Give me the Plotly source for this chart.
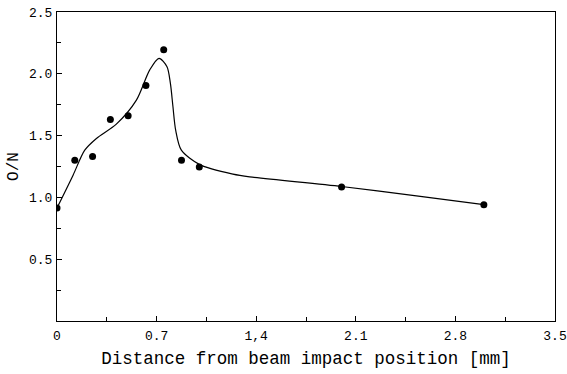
import plotly.graph_objects as go

# Measured points
pts_x = [0.0, 0.125, 0.25, 0.375, 0.5, 0.625, 0.75, 0.875, 1.0, 2.0, 3.0]
pts_y = [0.915, 1.30, 1.33, 1.63, 1.66, 1.905, 2.195, 1.30, 1.245, 1.085, 0.94]

# Fitted curve
curve_x = [0.0, 0.113, 0.195, 0.277, 0.417, 0.558, 0.651, 0.717, 0.773, 0.797,
           0.815, 0.834, 0.874, 1.003, 1.237, 1.354, 2.0, 2.526, 3.0]
curve_y = [0.915, 1.180, 1.382, 1.477, 1.593, 1.787, 2.030, 2.125, 2.057, 1.922,
           1.733, 1.544, 1.382, 1.265, 1.188, 1.166, 1.088, 1.012, 0.942]

x_tickvals = [0, 0.7, 1.4, 2.1, 2.8, 3.5]
x_ticktext = ["0", "0.7", "1,4", "2.1", "2.8", "3.5"]
y_tickvals = [0.5, 1.0, 1.5, 2.0, 2.5]
y_ticktext = ["0.5", "1.0", "1.5", "2.0", "2.5"]

font_family = "Liberation Mono"

fig = go.Figure()
fig.add_trace(go.Scatter(x=curve_x, y=curve_y, mode="lines",
                         line=dict(color="black", width=1.2, shape="spline", smoothing=0.8),
                         hoverinfo="skip", showlegend=False))
fig.add_trace(go.Scatter(x=pts_x, y=pts_y, mode="markers",
                         marker=dict(color="black", size=7),
                         showlegend=False))

fig.update_layout(
    width=567, height=374,
    margin=dict(l=57, r=12, t=12, b=53),
    paper_bgcolor="white", plot_bgcolor="white",
    font=dict(family=font_family, color="black", size=13),
    xaxis=dict(range=[0, 3.5], tickvals=x_tickvals, ticktext=x_ticktext,
               automargin=False,
               showgrid=False, zeroline=False, showline=True, linecolor="black",
               linewidth=1, mirror=True, ticks="inside", ticklen=5, tickcolor="black",
               minor=dict(dtick=0.35, ticks="inside", ticklen=4, tickcolor="black", showgrid=False),
               tickfont=dict(size=13, family=font_family),
               ticklabelstandoff=2,
               title=dict(text="Distance from beam impact position [mm]",
                          font=dict(size=17.5, family=font_family), standoff=9)),
    yaxis=dict(range=[0, 2.5], tickvals=y_tickvals, ticktext=y_ticktext,
               automargin=False,
               showgrid=False, zeroline=False, showline=True, linecolor="black",
               linewidth=1, mirror=True, ticks="inside", ticklen=5, tickcolor="black",
               minor=dict(dtick=0.25, ticks="inside", ticklen=4, tickcolor="black", showgrid=False),
               tickfont=dict(size=13, family=font_family),
               ticklabelstandoff=1,
               title=dict(text="O/N", font=dict(size=16, family=font_family), standoff=6)),
)

fig.write_html("out.html")
